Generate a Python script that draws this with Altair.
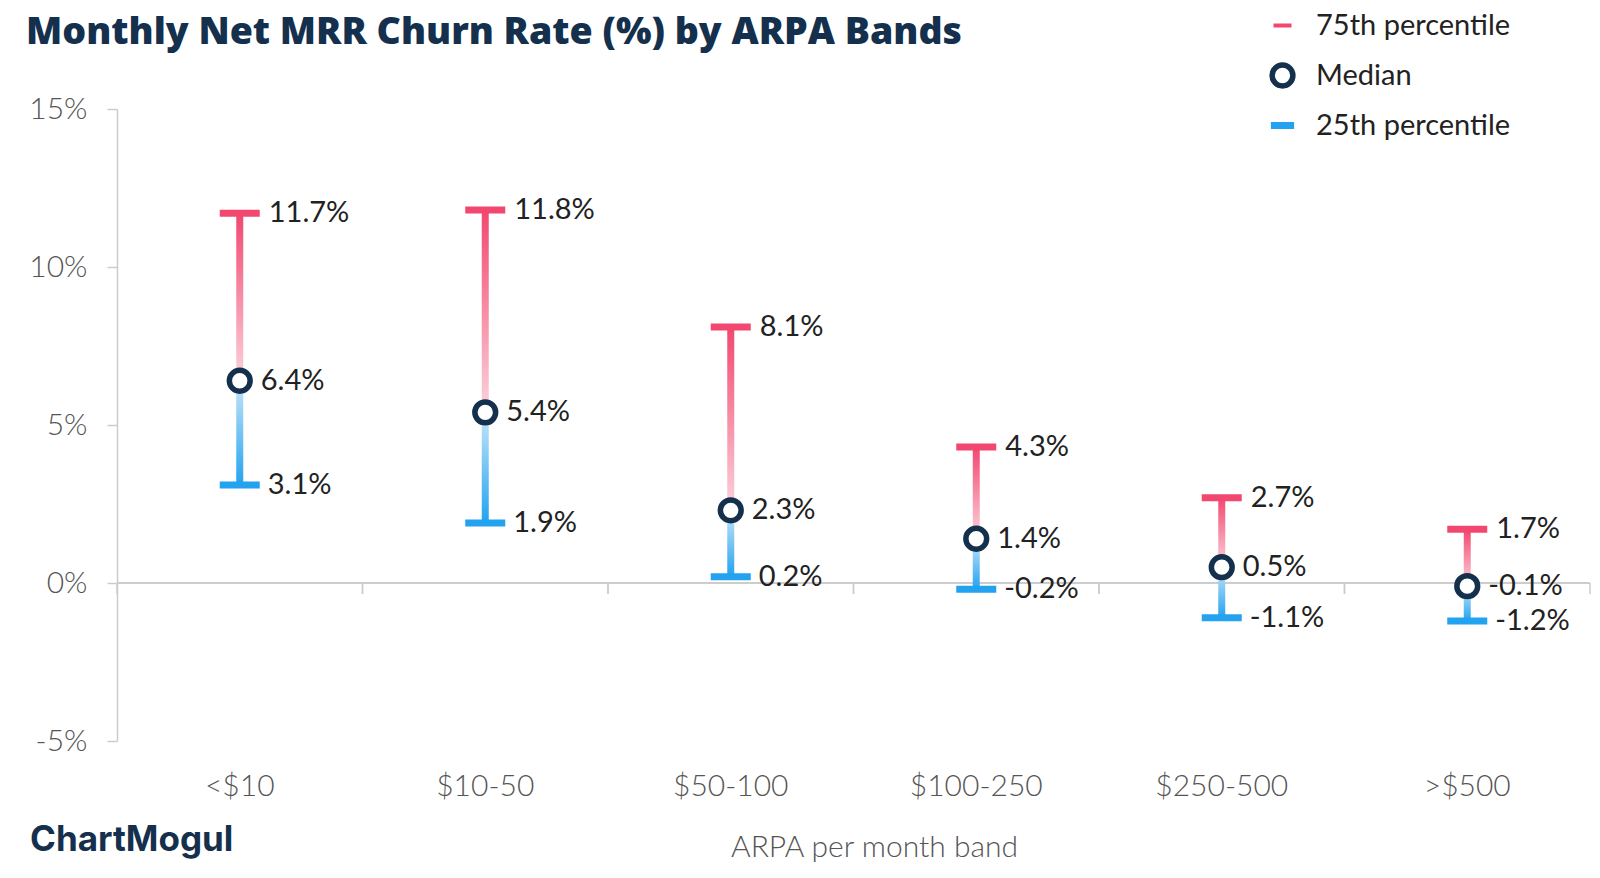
import altair as alt
import pandas as pd

# ---- data ----
bands = ["<$10", "$10-50", "$50-100", "$100-250", "$250-500", ">$500"]
p75 = [11.7, 11.8, 8.1, 4.3, 2.7, 1.7]
median = [6.4, 5.4, 2.3, 1.4, 0.5, -0.1]
p25 = [3.1, 1.9, 0.2, -0.2, -1.1, -1.2]
y_ticks = [-5, 0, 5, 10, 15]
series_names = ["75th percentile", "Median", "25th percentile"]

PINK = "#f2476f"
PINK_PALE = "#fcd3dd"
BLUE = "#22a2ef"
BLUE_PALE = "#c9e6fa"
NAVY = "#14304d"
TEXT = "#222222"
GREY = "#555555"
LINE = "#cccccc"
FONT = "Lato"


def pct(v):
    return f"{v:.1f}%"


df = pd.DataFrame({
    "band": bands,
    "p75": p75,
    "median": median,
    "p25": p25,
    "l75": [pct(v) for v in p75],
    "lmed": [pct(v) for v in median],
    "l25": [pct(v) for v in p25],
    "series": ["Median"] * len(bands),
})

x_enc = alt.X(
    "band:N",
    sort=bands,
    title="ARPA per month band",
    scale=alt.Scale(paddingInner=0, paddingOuter=0),
    axis=alt.Axis(
        domain=False, ticks=False, labelAngle=0, labelAlign="center", labelBaseline="top",
        labelFont=FONT, labelFontWeight=300, labelFontSize=30, labelColor=GREY,
        labelPadding=30,
        titleFont=FONT, titleFontWeight=300, titleFontSize=30, titleColor=GREY,
        titlePadding=31, titleX=757,
    ),
)
y_scale = alt.Scale(domain=[-5, 15], nice=False, zero=False)
y_axis = alt.Axis(
    values=y_ticks, grid=False, title=None,
    labelExpr="datum.value + '%'",
    labelFont=FONT, labelFontWeight=300, labelFontSize=30, labelColor=GREY,
    labelPadding=20, tickSize=10, tickColor=LINE, domainColor=LINE,
    domainWidth=1.5, tickWidth=1.5,
)

base = alt.Chart(df)

zero_rule = base.mark_rule(color=LINE, strokeWidth=1.5).encode(y=alt.datum(0, scale=y_scale))

tick_start = base.mark_rule(color=LINE, strokeWidth=1.5, y2Offset=11).encode(
    x=alt.X("band:N", sort=bands, bandPosition=0),
    y=alt.datum(0), y2=alt.datum(0),
)
tick_end = base.mark_rule(color=LINE, strokeWidth=1.5, y2Offset=11).encode(
    x=alt.X("band:N", sort=bands, bandPosition=1),
    y=alt.datum(0), y2=alt.datum(0),
)

upper = base.mark_bar(
    size=7,
    color=alt.Gradient(
        gradient="linear", x1=0, x2=0, y1=0, y2=1,
        stops=[alt.GradientStop(offset=0, color=PINK),
               alt.GradientStop(offset=1, color=PINK_PALE)],
    ),
).encode(x=x_enc, y=alt.Y("p75:Q", scale=y_scale, axis=y_axis), y2="median:Q")

lower = base.mark_bar(
    size=7,
    color=alt.Gradient(
        gradient="linear", x1=0, x2=0, y1=0, y2=1,
        stops=[alt.GradientStop(offset=0, color=BLUE_PALE),
               alt.GradientStop(offset=1, color=BLUE)],
    ),
).encode(x=alt.X("band:N", sort=bands), y=alt.Y("median:Q"), y2="p25:Q")

cap75 = base.mark_tick(color=PINK, size=40, thickness=7, opacity=1).encode(
    x=alt.X("band:N", sort=bands), y="p75:Q")
cap25 = base.mark_tick(color=BLUE, size=40, thickness=7, opacity=1).encode(
    x=alt.X("band:N", sort=bands), y="p25:Q")

dash = "M-1,0L1,0"
med_pts = base.mark_point(filled=False, fill="white", fillOpacity=1, opacity=1).encode(
    x=alt.X("band:N", sort=bands),
    y="median:Q",
    color=alt.Color("series:N", scale=alt.Scale(domain=series_names, range=[PINK, NAVY, BLUE]),
                    legend=alt.Legend(title=None)),
    shape=alt.Shape("series:N", scale=alt.Scale(domain=series_names, range=[dash, "circle", dash])),
    strokeWidth=alt.StrokeWidth("series:N", scale=alt.Scale(domain=series_names, range=[4, 7, 4])),
    size=alt.Size("series:N", scale=alt.Scale(domain=series_names, range=[324, 540, 324])),
)


def label_layer(field, lbl, dx):
    return base.mark_text(
        align="left", baseline="middle", dx=dx, font=FONT, fontSize=29, color=TEXT,
    ).encode(x=alt.X("band:N", sort=bands), y=f"{field}:Q", text=f"{lbl}:N")


lab75 = label_layer("p75", "l75", 29)
labmed = label_layer("median", "lmed", 21)
lab25 = label_layer("p25", "l25", 28)

logo = alt.Chart(pd.DataFrame({"t": ["ChartMogul"]})).mark_text(
    align="left", baseline="middle", font="Inter", fontWeight=700, fontSize=35,
    color=NAVY,
).encode(x=alt.value(-87), y=alt.value(731), text="t:N")

chart = alt.layer(
    zero_rule, tick_start, tick_end, upper, lower, cap75, cap25, med_pts,
    lab75, labmed, lab25, logo,
).properties(
    width=1473,
    height=632,
    autosize=alt.AutoSizeParams(type="none"),
    padding={"left": 109, "top": 101, "right": 2, "bottom": 129},
    title=alt.TitleParams(
        "Monthly Net MRR Churn Rate (%) by ARPA Bands",
        anchor="start", frame="group", dx=-91, offset=0, baseline="alphabetic", dy=70,
        font="Open Sans", fontWeight=800, fontSize=37.5, color=NAVY,
    ),
).configure_view(stroke=None).configure_legend(
    orient="none", legendX=1150, legendY=-98, padding=0,
    labelFont=FONT, labelFontSize=29, labelColor=TEXT, labelOffset=18, labelLimit=0,
    rowPadding=13, symbolOpacity=1,
)

chart.save("out.html", embed_options={"renderer": "svg", "actions": False})
